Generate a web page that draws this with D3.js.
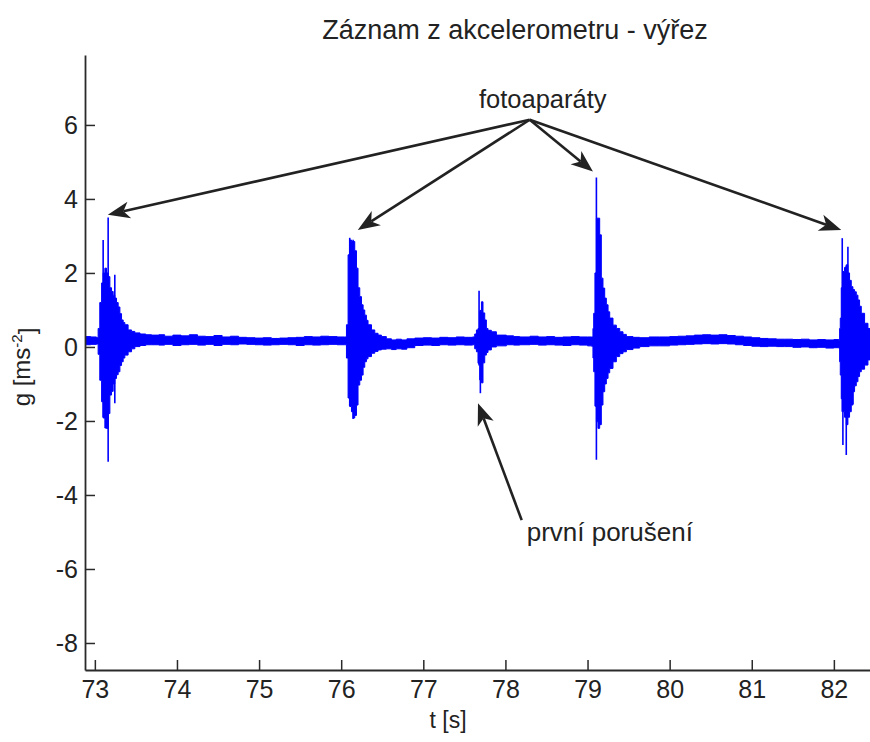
<!DOCTYPE html>
<html>
<head>
<meta charset="utf-8">
<script src="https://cdn.jsdelivr.net/npm/d3@7/dist/d3.min.js"></script>
<style>
  html, body { margin: 0; padding: 0; background: #fff; }
  svg { display: block; }
  text { font-family: "Liberation Sans", Arial, Helvetica, sans-serif; fill: #222; }
</style>
</head>
<body>
<svg id="chart" width="870" height="742"></svg>
<script>
// Accelerometer record: time [s], upper / lower envelope of the oscillation [m/s^2]
const sigT = [72.88, 72.95, 73.02,
  73.04, 73.06, 73.082, 73.101, 73.122, 73.142, 73.162, 73.183, 73.203, 73.223, 73.243, 73.264, 73.284,
  73.305, 73.325, 73.345, 73.365, 73.405, 73.447, 73.487, 73.55, 73.62, 73.69,
  73.78, 73.85, 73.95, 74.05, 74.15, 74.25, 74.35, 74.45, 74.55, 74.65, 74.75, 74.85, 74.95,
  75.05, 75.15, 75.25, 75.35, 75.45, 75.55, 75.65, 75.75, 75.85, 75.95, 76.04,
  76.064, 76.084, 76.104, 76.125, 76.145, 76.165, 76.186, 76.205, 76.226, 76.247, 76.267, 76.287,
  76.307, 76.327, 76.369, 76.409, 76.449, 76.49, 76.55, 76.612, 76.67, 76.734, 76.8, 76.896,
  77.0, 77.1, 77.2, 77.3, 77.4, 77.5, 77.6,
  77.626, 77.647, 77.666, 77.687, 77.708, 77.727, 77.748, 77.768, 77.788, 77.829, 77.89,
  78.012, 78.1, 78.174, 78.3, 78.4, 78.5, 78.6, 78.7, 78.8, 78.9, 79.0, 79.05,
  79.066, 79.075, 79.09, 79.108, 79.127, 79.148, 79.168, 79.188, 79.209, 79.229, 79.25, 79.27,
  79.31, 79.351, 79.392, 79.432, 79.473, 79.554, 79.635, 79.75, 79.879,
  80.0, 80.1, 80.2, 80.3, 80.4, 80.5, 80.6, 80.7, 80.8, 80.9, 81.0, 81.1, 81.2, 81.3, 81.4,
  81.5, 81.6, 81.7, 81.8, 81.9, 82.0, 82.06,
  82.07, 82.078, 82.09, 82.11, 82.13, 82.151, 82.171, 82.191, 82.212, 82.232, 82.252, 82.273,
  82.293, 82.313, 82.334, 82.374, 82.415, 82.45];
const sigHi = [0.28, 0.27, 0.25,
  0.5, 1.2, 1.73, 2.0, 2.13, 2.0, 1.9, 1.6, 1.5, 1.4, 1.32, 1.2, 1.08,
  0.9, 0.73, 0.66, 0.6, 0.46, 0.42, 0.38, 0.35, 0.33, 0.32,
  0.33, 0.29, 0.32, 0.30, 0.33, 0.29, 0.28, 0.31, 0.27, 0.29, 0.26, 0.25, 0.24,
  0.25, 0.23, 0.24, 0.25, 0.26, 0.28, 0.27, 0.29, 0.28, 0.27, 0.27,
  0.6, 2.49, 2.89, 2.85, 2.85, 2.6, 2.13, 1.6, 1.36, 1.14, 1.0, 0.86,
  0.72, 0.6, 0.46, 0.37, 0.32, 0.28, 0.22, 0.19, 0.21, 0.19, 0.22, 0.24,
  0.25, 0.24, 0.26, 0.25, 0.27, 0.26, 0.27,
  0.35, 0.46, 0.5, 0.95, 1.22, 0.92, 0.73, 0.5, 0.45, 0.41, 0.32,
  0.30, 0.28, 0.27, 0.29, 0.27, 0.28, 0.26, 0.27, 0.28, 0.27, 0.27, 0.27,
  0.5, 0.91, 2.0, 3.48, 3.48, 3.03, 1.86, 1.59, 1.32, 1.14, 0.95, 0.78,
  0.59, 0.5, 0.41, 0.34, 0.28, 0.26, 0.25, 0.27, 0.27,
  0.28, 0.29, 0.30, 0.32, 0.33, 0.32, 0.33, 0.31, 0.29, 0.27, 0.25, 0.23, 0.22, 0.21, 0.21,
  0.20, 0.21, 0.19, 0.20, 0.19, 0.20, 0.18,
  0.5, 0.78, 1.6, 2.04, 2.15, 2.22, 2.0, 1.8, 1.63, 1.55, 1.49, 1.4,
  1.27, 1.1, 0.91, 0.64, 0.5, 0.45];
const sigLo = [0.06, 0.07, 0.08,
  -0.2, -0.9, -1.48, -1.92, -2.19, -2.2, -1.8, -1.3, -1.2, -1.0, -0.85, -0.75, -0.67,
  -0.5, -0.4, -0.3, -0.22, -0.13, -0.05, 0.01, 0.04, 0.06, 0.06,
  0.05, 0.07, 0.04, 0.06, 0.07, 0.05, 0.07, 0.04, 0.07, 0.06, 0.08, 0.07, 0.06,
  0.05, 0.06, 0.07, 0.06, 0.04, 0.06, 0.05, 0.06, 0.07, 0.06, 0.06,
  -0.3, -1.38, -1.61, -1.75, -1.92, -1.85, -1.57, -1.03, -0.9, -0.76, -0.55, -0.4,
  -0.32, -0.26, -0.17, -0.12, -0.08, -0.06, -0.05, -0.07, -0.05, -0.06, -0.02, 0.04,
  0.05, 0.04, 0.06, 0.05, 0.06, 0.05, 0.06,
  -0.05, -0.13, -0.44, -0.89, -0.97, -0.43, -0.22, -0.15, -0.08, 0.0, 0.03,
  0.06, 0.05, 0.06, 0.07, 0.05, 0.06, 0.05, 0.04, 0.06, 0.05, 0.03, 0.02,
  -0.3, -0.67, -1.6, -2.02, -2.2, -2.1, -1.57, -1.21, -1.0, -0.85, -0.7, -0.58,
  -0.4, -0.26, -0.18, -0.13, -0.07, -0.03, 0.01, 0.03, 0.03,
  0.05, 0.06, 0.07, 0.08, 0.09, 0.08, 0.09, 0.08, 0.06, 0.04, 0.02, 0.01, 0.02, 0.01, 0.01,
  -0.01, 0.0, -0.02, -0.01, -0.03, -0.02, -0.03,
  -0.4, -0.76, -1.4, -1.75, -1.9, -2.1, -1.9, -1.75, -1.57, -1.21, -1.05, -0.94,
  -0.8, -0.67, -0.6, -0.49, -0.35, -0.31];

// Single-sample extremes standing out of the envelope
const spikeT  = [73.101, 73.142, 73.162, 73.243, 76.104, 76.145, 77.679, 77.695, 79.108, 82.102, 82.11, 82.151, 82.171, 82.232];
const spikeHi = [2.89, 2.0, 3.5, 1.95, 2.95, 2.9, 1.52, 1.0, 4.58, 2.94, 2.0, 2.2, 2.71, 1.5];
const spikeLo = [-1.9, -2.2, -3.1, -1.52, -1.6, -1.95, -0.5, -1.25, -3.05, -1.75, -2.65, -2.92, -1.8, -1.55];

// Axis ticks
const xTicks = [73, 74, 75, 76, 77, 78, 79, 80, 81, 82];
const yTicks = [-8, -6, -4, -2, 0, 2, 4, 6];

// Annotations: arrow tail and arrow tips in data units
const cameraLabel = "fotoaparáty";
const cameraFrom = [78.296, 6.14];
const cameraTipT = [73.158, 76.202, 79.066, 82.09];
const cameraTipV = [3.57, 3.16, 4.74, 3.16];
const breachLabel = "první porušení";
const breachFrom = [78.198, -4.68];
const breachTip = [77.666, -1.52];

const svg = d3.select("#chart");
const x = d3.scaleLinear().domain([72.88, 82.44]).range([85, 870]);
const y = d3.scaleLinear().domain([-8.73, 7.89]).range([670, 55]);

svg.append("defs").append("clipPath").attr("id", "plotClip")
  .append("rect").attr("x", x.range()[0]).attr("y", y.range()[1])
  .attr("width", x.range()[1] - x.range()[0]).attr("height", y.range()[0] - y.range()[1]);

// Signal
const sig = sigT.map((t, i) => ({t, hi: sigHi[i], lo: sigLo[i]}));
const plot = svg.append("g").attr("clip-path", "url(#plotClip)");
plot.append("path")
  .datum(sig)
  .attr("d", d3.area().x(d => x(d.t)).y0(d => y(d.lo)).y1(d => y(d.hi)).curve(d3.curveStepAfter))
  .attr("fill", "#0000ff")
  .attr("stroke", "#0000ff")
  .attr("stroke-width", 1);
plot.selectAll("line.spike")
  .data(spikeT.map((t, i) => ({t, hi: spikeHi[i], lo: spikeLo[i]})))
  .join("line")
  .attr("class", "spike")
  .attr("x1", d => x(d.t)).attr("x2", d => x(d.t))
  .attr("y1", d => y(d.lo)).attr("y2", d => y(d.hi))
  .attr("stroke", "#0000ff").attr("stroke-width", 1.6);

// Axes with inward ticks; labels use a plain hyphen for negatives
const axisColor = "#2a2a2a";
const fmt = d => String(d);
const gx = svg.append("g").attr("transform", `translate(0,${y.range()[0]})`)
  .call(d3.axisBottom(x).tickValues(xTicks).tickFormat(fmt)
    .tickSizeInner(-10).tickSizeOuter(0).tickPadding(10));
const gy = svg.append("g").attr("transform", `translate(${x.range()[0]},0)`)
  .call(d3.axisLeft(y).tickValues(yTicks).tickFormat(fmt)
    .tickSizeInner(-10).tickSizeOuter(0).tickPadding(7));
[gx, gy].forEach(g => {
  g.select(".domain").attr("stroke", axisColor).attr("stroke-width", 1.8);
  g.selectAll(".tick line").attr("stroke", axisColor).attr("stroke-width", 1.5);
  g.selectAll(".tick text").attr("fill", "#222").style("font-size", "25px")
    .style("font-family", "'Liberation Sans', Arial, sans-serif");
});
gy.selectAll(".tick text").attr("dy", "0.36em");

// Title and axis labels
svg.append("text").attr("x", 515).attr("y", 39).attr("text-anchor", "middle")
  .style("font-size", "27px").text("Záznam z akcelerometru - výřez");
svg.append("text").attr("x", 448).attr("y", 728).attr("text-anchor", "middle")
  .style("font-size", "23px").text("t [s]");
const yl = svg.append("text").attr("transform", "translate(30,367) rotate(-90)")
  .attr("text-anchor", "middle").style("font-size", "24px");
yl.append("tspan").text("g [ms");
yl.append("tspan").attr("dy", "-0.55em").style("font-size", "15px").text("-2");
yl.append("tspan").attr("dy", "0.55em").text("]");

// Arrows
const arrowColor = "#222";
function arrow(from, to) {
  const x0 = x(from[0]), y0 = y(from[1]), x1 = x(to[0]), y1 = y(to[1]);
  const a = Math.atan2(y1 - y0, x1 - x0);
  const L = 22, W = 8.5, N = 16;
  const c = Math.cos(a), s = Math.sin(a);
  svg.append("line")
    .attr("x1", x0).attr("y1", y0).attr("x2", x1 - N * c).attr("y2", y1 - N * s)
    .attr("stroke", arrowColor).attr("stroke-width", 2.6);
  const pts = [
    [x1, y1],
    [x1 - L * c + W * s, y1 - L * s - W * c],
    [x1 - N * c, y1 - N * s],
    [x1 - L * c - W * s, y1 - L * s + W * c]
  ];
  svg.append("path").attr("d", "M" + pts.map(p => p.join(",")).join("L") + "Z")
    .attr("fill", arrowColor);
}
cameraTipT.forEach((t, i) => arrow(cameraFrom, [t, cameraTipV[i]]));
arrow(breachFrom, breachTip);

svg.append("text").attr("x", x(cameraFrom[0]) + 13).attr("y", y(cameraFrom[1]) - 12)
  .attr("text-anchor", "middle").style("font-size", "25.5px").text(cameraLabel);
svg.append("text").attr("x", x(breachFrom[0]) + 5).attr("y", y(breachFrom[1]) + 21)
  .attr("text-anchor", "start").style("font-size", "26px").text(breachLabel);
</script>
</body>
</html>
